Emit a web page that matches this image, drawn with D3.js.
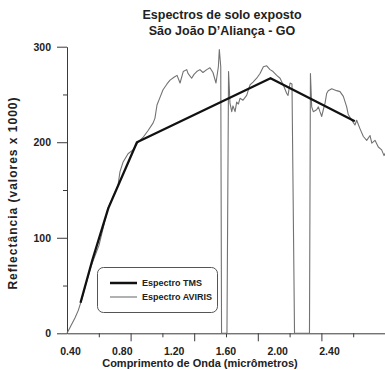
<!DOCTYPE html>
<html>
<head>
<meta charset="utf-8">
<script src="https://cdn.jsdelivr.net/npm/d3@7"></script>
<style>
  html, body { margin: 0; padding: 0; background: #fff; }
  svg { display: block; }
  text { font-family: "Liberation Sans", Arial, sans-serif; fill: #222; }
</style>
</head>
<body>
<svg id="chart" width="385" height="370"></svg>
<script>
// ---------- data ----------
const titleLines = ["Espectros de solo exposto", "São João D\u2019Aliança - GO"];
const xTitle = "Comprimento de Onda (micrômetros)";
const yTitle = "Reflectância (valores x 1000)";

const xTickLabels = [0.40, 0.80, 1.20, 1.60, 2.00, 2.40];
const xMajorTicks = [0.8, 1.2, 1.6, 2.0, 2.4];
const xMinorTicks = [0.6, 1.0, 1.4, 1.8, 2.2];
const yMajorTicks = [0, 100, 200, 300];
const yMinorTicks = [50, 150, 250];

const legendLabels = ["Espectro TMS", "Espectro AVIRIS"];

// TMS band centres (micrometres) and reflectance
const tmsWavelength = [0.485, 0.56, 0.66, 0.84, 1.68, 2.21];
const tmsReflectance = [32, 77, 131, 200, 267, 222];

// AVIRIS spectrum
const avirisWavelength = [
  0.400, 0.450, 0.471, 0.492, 0.520, 0.551, 0.601, 0.633, 0.658, 0.689,
  0.721, 0.733, 0.752, 0.784, 0.815, 0.847, 0.878, 0.909, 0.941, 0.953,
  0.966, 0.985, 1.004, 1.029, 1.048, 1.073, 1.092, 1.111, 1.131, 1.153,
  1.161, 1.184, 1.199, 1.216, 1.236, 1.255, 1.279, 1.299, 1.318, 1.337,
  1.352, 1.358, 1.367, 1.372, 1.406, 1.416, 1.425, 1.436, 1.444, 1.457,
  1.467, 1.478, 1.488, 1.507, 1.530, 1.551, 1.570, 1.593, 1.614, 1.635,
  1.656, 1.677, 1.696, 1.719, 1.740, 1.760, 1.782, 1.790, 1.803, 1.815,
  1.831, 1.925, 1.931, 1.939, 1.949, 1.970, 1.981, 1.991, 2.002, 2.012,
  2.023, 2.033, 2.043, 2.065, 2.096, 2.117, 2.138, 2.159, 2.169, 2.191,
  2.211, 2.222, 2.243, 2.264, 2.285, 2.306, 2.317, 2.337, 2.358, 2.379,
  2.394, 2.406
];
const avirisReflectance = [
  0, 16, 24, 35, 52, 70, 92, 114, 131, 143,
  155, 169, 179, 188, 192, 200, 205, 212, 220, 225,
  239, 247, 255, 261, 265, 268, 270, 262, 274, 276,
  272, 267, 271, 274, 276, 273, 276, 278, 273, 262,
  279, 297, 279, 0, 0, 274, 241, 232, 238, 232,
  242, 240, 246, 244, 249, 260, 263, 267, 272, 279,
  280, 276, 274, 270, 267, 260, 251, 249, 262, 261,
  0, 0, 272, 237, 232, 234, 237, 232, 227, 234,
  241, 251, 254, 256, 254, 253, 248, 237, 229, 223,
  218, 223, 214, 206, 202, 207, 199, 202, 195, 192,
  186, 190
];

// ---------- drawing ----------
const svg = d3.select("#chart");

const x = d3.scaleLinear().domain([0.4, 2.4]).range([67, 385]);
const y = d3.scaleLinear().domain([0, 300]).range([333.3, 46.7]);
// tick labels in the source figure are set on their own spacing
const xLabelScale = d3.scaleLinear().domain([0.4, 2.4]).range([70, 329]);

const axisColor = "#3a3a3a";

// title
svg.append("g").selectAll("text").data(titleLines).join("text")
  .attr("x", 222).attr("y", (d, i) => 19 + i * 16.2)
  .attr("text-anchor", "middle")
  .style("font-size", "12.5px").style("font-weight", "bold")
  .text(d => d);

// y axis major
const yAxisMajor = svg.append("g").attr("transform", "translate(67,0)")
  .call(d3.axisLeft(y).tickValues(yMajorTicks).tickSize(10).tickSizeOuter(0).tickPadding(6));
const yAxisMinor = svg.append("g").attr("transform", "translate(67,0)")
  .call(d3.axisLeft(y).tickValues(yMinorTicks).tickSize(4).tickSizeOuter(0).tickFormat(""));
yAxisMinor.select(".domain").remove();

// x axis ticks
const xAxisMajor = svg.append("g").attr("transform", `translate(0,${y(0)})`)
  .call(d3.axisBottom(x).tickValues(xMajorTicks).tickSize(8).tickSizeOuter(0).tickFormat(""));
const xAxisMinor = svg.append("g").attr("transform", `translate(0,${y(0)})`)
  .call(d3.axisBottom(x).tickValues(xMinorTicks).tickSize(4).tickSizeOuter(0).tickFormat(""));
xAxisMinor.select(".domain").remove();
// x tick labels
const xAxisLabels = svg.append("g").attr("transform", `translate(0,${y(0)})`)
  .call(d3.axisBottom(xLabelScale).tickValues(xTickLabels).tickSize(0).tickFormat(d3.format(".2f")));
xAxisLabels.select(".domain").remove();
xAxisLabels.selectAll("text").attr("y", 22).attr("dy", null);

[yAxisMajor, yAxisMinor, xAxisMajor, xAxisMinor].forEach(g => {
  g.selectAll("line").attr("stroke", axisColor).attr("stroke-width", 1);
  g.selectAll(".domain").attr("stroke", axisColor).attr("stroke-width", 1);
});
[yAxisMajor, xAxisLabels].forEach(g => {
  g.selectAll("text")
    .style("font-family", "'Liberation Sans', Arial, sans-serif")
    .style("font-size", "10.5px").style("font-weight", "bold").attr("fill", "#222");
});

// axis titles
svg.append("text")
  .attr("x", 200).attr("y", 367)
  .attr("text-anchor", "middle")
  .style("font-size", "11px").style("font-weight", "bold")
  .text(xTitle);
svg.append("text")
  .attr("transform", "translate(17,193) rotate(-90)")
  .attr("text-anchor", "middle")
  .style("font-size", "12px").style("font-weight", "bold")
  .style("letter-spacing", "1px")
  .text(yTitle);

// lines
const avirisData = avirisWavelength.map((w, i) => [w, avirisReflectance[i]]);
const tmsData = tmsWavelength.map((w, i) => [w, tmsReflectance[i]]);
const line = d3.line().x(d => x(d[0])).y(d => y(d[1]));

svg.append("path").datum(avirisData)
  .attr("d", line).attr("fill", "none")
  .attr("stroke", "#727272").attr("stroke-width", 1.1).attr("stroke-linejoin", "round");
svg.append("path").datum(tmsData)
  .attr("d", line).attr("fill", "none")
  .attr("stroke", "#111").attr("stroke-width", 2.3).attr("stroke-linejoin", "round");

// legend
const lg = svg.append("g");
lg.append("rect").attr("x", 97.5).attr("y", 267.5).attr("width", 120).attr("height", 45)
  .attr("rx", 6).attr("ry", 6).attr("fill", "#fff").attr("stroke", "#555").attr("stroke-width", 1);
const legendStyles = [{ c: "#111", w: 2.5 }, { c: "#727272", w: 1.1 }];
legendLabels.forEach((lab, i) => {
  const yy = 283 + i * 14;
  lg.append("line").attr("x1", 110).attr("x2", 137).attr("y1", yy).attr("y2", yy)
    .attr("stroke", legendStyles[i].c).attr("stroke-width", legendStyles[i].w);
  lg.append("text").attr("x", 142).attr("y", yy + 3.3)
    .style("font-size", "9px").style("font-weight", "bold").text(lab);
});
</script>
</body>
</html>
